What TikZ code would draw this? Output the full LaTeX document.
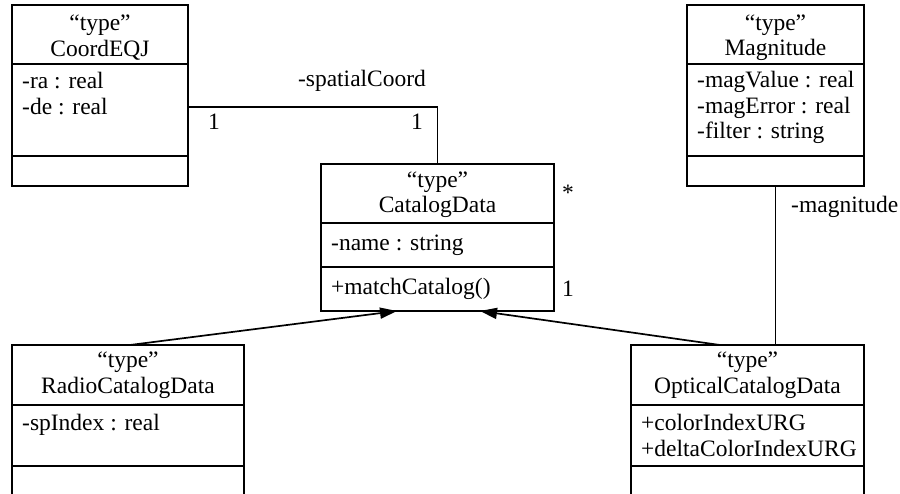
\documentclass[tikz,border=0pt]{standalone}
\usepackage{fontspec}
\setmainfont{Liberation Serif}
\usetikzlibrary{arrows.meta,calc}
\begin{document}
\begin{tikzpicture}[x=1pt,y=-1pt,
  box/.style={draw, line width=1.8pt, inner sep=0pt, outer sep=0pt, anchor=north west},
  lt/.style={inner sep=0pt, anchor=base west, font=\fontsize{23.5}{26}\selectfont},
  ct/.style={inner sep=0pt, anchor=base, font=\fontsize{23.5}{26}\selectfont},
  conn/.style={line width=1.8pt},
  gen/.style={line width=1.7pt, -{Triangle[length=17pt,width=11pt]}}]
\useasboundingbox (0,0) rectangle (900,494);
\clip (0,0) rectangle (900,494);
% CoordEQJ
\node[box, minimum width=176pt, minimum height=59pt] (coordH) at (12,5) {};
\node[box, minimum width=176pt, minimum height=92pt] (coordA) at (12,64) {};
\node[box, minimum width=176pt, minimum height=30pt] (coordO) at (12,156) {};
\node[ct] (coordT) at (100,31) {“type”};
\node[ct] (coordN) at (100,57) {CoordEQJ};
\node[lt] (coordA1) at (22,89) {-ra : real};
\node[lt] (coordA2) at (22,115) {-de : real};
% Magnitude
\node[box, minimum width=177pt, minimum height=59pt] (magH) at (687,5) {};
\node[box, minimum width=177pt, minimum height=92pt] (magA) at (687,64) {};
\node[box, minimum width=177pt, minimum height=30pt] (magO) at (687,156) {};
\node[ct] (magT) at (775.5,31) {“type”};
\node[ct] (magN) at (775.5,56) {Magnitude};
\node[lt] (magA1) at (697,88) {-magValue : real};
\node[lt] (magA2) at (697,114) {-magError : real};
\node[lt] (magA3) at (697,139) {-filter : string};
% CatalogData
\node[box, minimum width=233pt, minimum height=59pt] (catH) at (321,164) {};
\node[box, minimum width=233pt, minimum height=44pt] (catA) at (321,223) {};
\node[box, minimum width=233pt, minimum height=44pt] (catO) at (321,267) {};
\node[ct] (catT) at (437.5,188) {“type”};
\node[ct] (catN) at (437.5,213) {CatalogData};
\node[lt] (catA1) at (331,251) {-name : string};
\node[lt] (catO1) at (331,295) {+matchCatalog()};
% RadioCatalogData
\node[box, minimum width=232pt, minimum height=60pt] (radH) at (12,345) {};
\node[box, minimum width=232pt, minimum height=61pt] (radA) at (12,405) {};
\node[box, minimum width=232pt, minimum height=50pt] (radO) at (12,466) {};
\node[ct] (radT) at (128,367) {“type”};
\node[ct] (radN) at (128,393) {RadioCatalogData};
\node[lt] (radA1) at (22,430) {-spIndex : real};
% OpticalCatalogData
\node[box, minimum width=233pt, minimum height=60pt] (optH) at (631,345) {};
\node[box, minimum width=233pt, minimum height=61pt] (optA) at (631,405) {};
\node[box, minimum width=233pt, minimum height=50pt] (optO) at (631,466) {};
\node[ct] (optT) at (747.5,367) {“type”};
\node[ct] (optN) at (747.5,393) {OpticalCatalogData};
\node[lt] (optA1) at (641,430) {+colorIndexURG};
\node[lt] (optA2) at (641,456) {+deltaColorIndexURG};
% associations
\draw[conn] ($(coordA.north east)+(0,43)$) -| (catH.north);
\draw[conn] (magO.south) -- (magO.south |- optH.north);
% generalizations
\draw[gen] ($(radH.north west)+(118,0)$) -- ($(catO.south west)+(76,0)$);
\draw[gen] ($(optH.north west)+(89,0)$) -- ($(catO.south west)+(159,0)$);
% labels
\node[ct] (lblSC) at (362,87) {-spatialCoord};
\node[ct] (m1) at (214,130) {1};
\node[ct] (m2) at (417,130) {1};
\node[ct] (m3) at (568,201) {*};
\node[ct] (m4) at (568,297) {1};
\node[lt] (lblMag) at (791,213) {-magnitude};
\end{tikzpicture}
\end{document}
